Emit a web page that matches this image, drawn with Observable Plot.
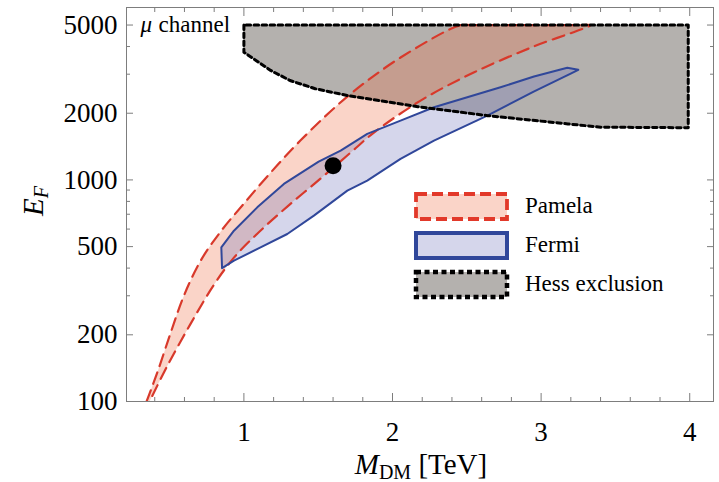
<!DOCTYPE html>
<html>
<head>
<meta charset="utf-8">
<script src="https://cdn.jsdelivr.net/npm/d3@7"></script>
<script src="https://cdn.jsdelivr.net/npm/@observablehq/plot@0.6"></script>
<style>
  html, body { margin: 0; padding: 0; background: #ffffff; }
  svg { display: block; }
  #chart svg text, #chart svg tspan { font-family: 'Liberation Serif', 'Times New Roman', serif; }
</style>
</head>
<body>
<div id="chart"></div>
<script>
// ---- Data ----
// Pamela band: upper boundary (bottom to top), top edge, lower boundary (top to bottom)
const pamelaX = [0.345, 0.417, 0.507, 0.596, 0.709, 0.843, 1.0, 1.18, 1.38, 1.696, 2.054, 2.458, 2.52, 3.27, 3.333, 2.95, 2.546, 2.189, 1.875, 1.718, 1.516, 1.292, 1.09, 0.933, 0.798, 0.641, 0.485, 0.365];
const pamelaY = [100, 135, 204, 300, 432, 584, 782, 1079, 1505, 2377, 3567, 5000, 5000, 5000, 5000, 4000, 3052, 2280, 1635, 1328, 1014, 758, 572, 446, 336, 224, 145, 100];

// Fermi contour
const fermiX = [0.853, 0.848, 0.933, 1.090, 1.269, 1.503, 1.651, 1.830, 2.054, 2.279, 2.727, 2.952, 3.176, 3.250, 3.199, 2.950, 2.638, 2.279, 2.054, 1.830, 1.696, 1.471, 1.292, 1.112, 0.933, 0.853];
const fermiY = [400, 496, 590, 752, 959, 1210, 1356, 1614, 1853, 2128, 2618, 2928, 3206, 3140, 3020, 2505, 1952, 1505, 1244, 993, 895, 690, 570, 496, 432, 400];

// Hess exclusion region
const hessX = [1.0, 1.0, 1.18, 1.31, 1.48, 1.70, 2.17, 2.64, 3.18, 3.40, 3.99, 3.99, 1.0];
const hessY = [5000, 3770, 3120, 2810, 2580, 2400, 2140, 1950, 1790, 1730, 1720, 5000, 5000];

// Benchmark point
const pointX = [1.6];
const pointY = [1160];

// Axis ticks
const xMajor = [1, 2, 3, 4];
const xMinor = [0.4, 0.6, 0.8, 1.2, 1.4, 1.6, 1.8, 2.2, 2.4, 2.6, 2.8, 3.2, 3.4, 3.6, 3.8];
const yMajor = [100, 200, 500, 1000, 2000, 5000];
const yMinor = [300, 400, 600, 700, 800, 900, 3000, 4000];

// Legend
const legendLabels = ["Pamela", "Fermi", "Hess exclusion"];

// ---- Build tables ----
const pamela = pamelaX.map((x, i) => ({x, y: pamelaY[i]}));
const fermi = fermiX.map((x, i) => ({x, y: fermiY[i]}));
const hess = hessX.map((x, i) => ({x, y: hessY[i]}));
const point = pointX.map((x, i) => ({x, y: pointY[i]}));

const axisColor = "#7d7d7d";
const font = "'Liberation Serif', 'Times New Roman', serif";

const pamelaStroke = "#d8392b";
const pamelaFill = "rgb(238,112,72)";
const fermiStroke = "#30479a";
const fermiFill = "rgb(115,118,188)";
const hessFill = "#b4b1ae";

const tickOpts = {fill: "none", stroke: axisColor, label: null};

const chart = Plot.plot({
  width: 719,
  height: 482,
  marginLeft: 126,
  marginRight: 6,
  marginTop: 7,
  marginBottom: 81,
  style: {fontFamily: font, background: "#ffffff", color: "black"},
  x: {domain: [0.21, 4.16]},
  y: {type: "log", domain: [100, 6000]},
  marks: [
    Plot.line(hess, {x: "x", y: "y", fill: hessFill, stroke: "none", clip: true}),
    Plot.line(pamela, {x: "x", y: "y", fill: pamelaFill, fillOpacity: 0.3, stroke: "none", curve: "catmull-rom", clip: true}),
    Plot.line(fermi, {x: "x", y: "y", fill: fermiFill, fillOpacity: 0.3, stroke: "none", clip: true}),
    Plot.line(pamela, {x: "x", y: "y", stroke: pamelaStroke, strokeWidth: 2.2, strokeDasharray: "12,7", curve: "catmull-rom", clip: true}),
    Plot.line(fermi, {x: "x", y: "y", stroke: fermiStroke, strokeWidth: 2}),
    Plot.line(hess, {x: "x", y: "y", stroke: "black", strokeWidth: 3, strokeDasharray: "4.5,3.5"}),
    Plot.dot(point, {x: "x", y: "y", r: 8.5, fill: "black"}),
    Plot.frame({stroke: axisColor}),
    // inward ticks on all four sides
    Plot.axisX({anchor: "bottom", ticks: xMajor, tickSize: -8, ...tickOpts}),
    Plot.axisX({anchor: "bottom", ticks: xMinor, tickSize: -4, ...tickOpts}),
    Plot.axisX({anchor: "top", ticks: xMajor, tickSize: -8, ...tickOpts}),
    Plot.axisX({anchor: "top", ticks: xMinor, tickSize: -4, ...tickOpts}),
    Plot.axisY({anchor: "left", ticks: yMajor, tickSize: -7, ...tickOpts}),
    Plot.axisY({anchor: "left", ticks: yMinor, tickSize: -4, ...tickOpts}),
    Plot.axisY({anchor: "right", ticks: yMajor, tickSize: -7, ...tickOpts}),
    Plot.axisY({anchor: "right", ticks: yMinor, tickSize: -4, ...tickOpts}),
    // tick labels
    Plot.axisX({anchor: "bottom", ticks: xMajor, tickSize: 0, tickPadding: 20, fontSize: 27, label: null, tickFormat: d => String(d)}),
    Plot.axisY({anchor: "left", ticks: yMajor, tickSize: 0, tickPadding: 9, fontSize: 27, label: null, tickFormat: d => String(d)}),
    Plot.text(["channel"], {frameAnchor: "top-left", dx: 32, dy: 24, text: d => d, fontSize: 23, textAnchor: "start", lineAnchor: "bottom", fill: "black"}),
    Plot.text(["μ"], {frameAnchor: "top-left", dx: 14, dy: 24, text: d => d, fontSize: 23, fontStyle: "italic", textAnchor: "start", lineAnchor: "bottom", fill: "black"})
  ]
});

const svg = d3.select(chart);

// Axis titles
const yl = svg.append("text")
  .attr("transform", "translate(43,201) rotate(-90)")
  .attr("text-anchor", "middle")
  .attr("font-family", font)
  .attr("font-size", 29)
  .attr("fill", "black");
yl.append("tspan").attr("font-style", "italic").text("E");
yl.append("tspan").attr("font-style", "italic").attr("font-size", 20).attr("dy", 5).text("F");

const xl = svg.append("text")
  .attr("x", 421)
  .attr("y", 474)
  .attr("text-anchor", "middle")
  .attr("font-family", font)
  .attr("font-size", 29)
  .attr("fill", "black");
xl.append("tspan").attr("font-style", "italic").text("M");
xl.append("tspan").attr("font-size", 20).attr("dy", 5).text("DM");
xl.append("tspan").attr("dy", -5).text(" [TeV]");

// Legend
const legendItems = [
  {fill: pamelaFill, fillOpacity: 0.3, stroke: "#e2392a", dash: "11,5", sw: 3.8},
  {fill: fermiFill, fillOpacity: 0.3, stroke: fermiStroke, dash: null, sw: 4},
  {fill: hessFill, fillOpacity: 1, stroke: "black", dash: "5,3.5", sw: 4.5}
];
const lg = svg.append("g");
legendItems.forEach((it, i) => {
  const y0 = 194 + i * 39;
  const r = lg.append("rect")
    .attr("x", 416).attr("y", y0).attr("width", 91).attr("height", 25)
    .attr("fill", it.fill).attr("fill-opacity", it.fillOpacity)
    .attr("stroke", it.stroke).attr("stroke-width", it.sw);
  if (it.dash) r.attr("stroke-dasharray", it.dash);
  lg.append("text")
    .attr("x", 525).attr("y", y0 + 19)
    .attr("text-anchor", "start")
    .attr("font-family", font).attr("font-size", 23).attr("fill", "black")
    .text(legendLabels[i]);
});

document.getElementById("chart").appendChild(chart);
</script>
</body>
</html>
